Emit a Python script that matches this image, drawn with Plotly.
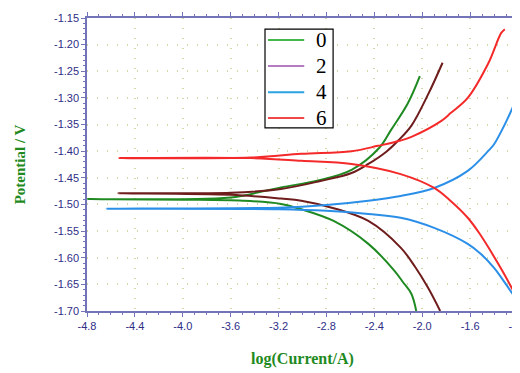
import plotly.graph_objects as go

# ---- data (log current / A, potential / V) ----
labels = ["0", "2", "4", "6"]

log_i_0 = [-2.05, -2.09, -2.16, -2.23, -2.45, -2.74, -3.01, -3.18, -3.5, -4.0, -4.8,
           -4.0, -3.6, -3.18, -2.87, -2.59, -2.36, -2.26, -2.12, -2.02]
pot_0 = [-1.700, -1.668, -1.646, -1.625, -1.574, -1.531, -1.509, -1.499, -1.493, -1.491, -1.490,
         -1.490, -1.487, -1.468, -1.455, -1.435, -1.394, -1.360, -1.310, -1.259]

log_i_2 = [-1.85, -1.95, -2.06, -2.18, -2.45, -2.74, -3.01, -3.18, -3.6, -4.54,
           -3.6, -3.18, -2.85, -2.59, -2.45, -2.30, -2.20, -2.09, -1.95, -1.83]
pot_2 = [-1.700, -1.657, -1.617, -1.581, -1.531, -1.507, -1.493, -1.489, -1.482, -1.479,
         -1.478, -1.471, -1.456, -1.441, -1.424, -1.401, -1.380, -1.352, -1.293, -1.234]

log_i_4 = [-1.20, -1.30, -1.40, -1.51, -1.62, -1.90, -2.18, -2.45, -2.8, -3.2, -4.64,
           -3.2, -2.8, -2.45, -2.18, -1.90, -1.62, -1.45, -1.40, -1.30, -1.20]
pot_4 = [-1.683, -1.650, -1.619, -1.593, -1.574, -1.544, -1.525, -1.518, -1.512, -1.509, -1.508,
         -1.506, -1.501, -1.493, -1.484, -1.469, -1.437, -1.400, -1.387, -1.345, -1.295]

log_i_6 = [-1.23, -1.33, -1.43, -1.52, -1.62, -1.76, -1.90, -2.18, -2.59, -3.01, -3.43, -4.53,
           -3.43, -3.01, -2.59, -2.37, -2.18, -2.09, -1.84, -1.76, -1.62, -1.45, -1.34, -1.31]
pot_6 = [-1.666, -1.625, -1.587, -1.555, -1.525, -1.494, -1.469, -1.443, -1.424, -1.418, -1.413, -1.413,
         -1.412, -1.405, -1.400, -1.390, -1.380, -1.373, -1.343, -1.328, -1.300, -1.236, -1.178, -1.171]

x_ticks = [-4.8, -4.4, -4.0, -3.6, -3.2, -2.8, -2.4, -2.0, -1.6, -1.2]
x_tick_text = ["-4.8", "-4.4", "-4.0", "-3.6", "-3.2", "-2.8", "-2.4", "-2.0", "-1.6", "-1.2"]
y_ticks = [-1.15, -1.20, -1.25, -1.30, -1.35, -1.40, -1.45, -1.50, -1.55, -1.60, -1.65, -1.70]
y_tick_text = ["-1.15", "-1.20", "-1.25", "-1.30", "-1.35", "-1.40", "-1.45", "-1.50",
               "-1.55", "-1.60", "-1.65", "-1.70"]

line_colors = ["#1f8a22", "#6e1c1c", "#2b8fe8", "#f42a2a"]
legend_colors = ["#45b84a", "#b47cc4", "#2aa3e0", "#f04848"]

series = [(log_i_0, pot_0), (log_i_2, pot_2), (log_i_4, pot_4), (log_i_6, pot_6)]

fig = go.Figure()
for (xs, ys), c in zip(series, line_colors):
    fig.add_trace(go.Scatter(x=xs, y=ys, mode="lines", showlegend=False,
                             line=dict(color=c, width=2, shape="spline", smoothing=1.0)))

# ---- hand-drawn legend box (paper coordinates) ----
box = dict(x0=0.413, x1=0.571, y0=0.625, y1=0.962)
item_y = [0.925, 0.836, 0.747, 0.659]
fig.add_shape(type="rect", xref="paper", yref="paper", line=dict(color="black", width=1.2),
              fillcolor="white", layer="above", **box)
for name, c, yy in zip(labels, legend_colors, item_y):
    fig.add_shape(type="line", xref="paper", yref="paper", x0=0.420, x1=0.504, y0=yy, y1=yy,
                  line=dict(color=c, width=2), layer="above")
    fig.add_annotation(xref="paper", yref="paper", x=0.526, y=yy, text=name, showarrow=False,
                       xanchor="left", yanchor="middle",
                       font=dict(family="Liberation Serif, Times New Roman, serif", size=21, color="black"))

axis_col = "#7373b8"
tick_font = dict(family="Liberation Sans Narrow, Liberation Sans, Arial", size=11, color="#2e2e86")
title_font = dict(family="Liberation Serif, Times New Roman, serif", size=16, color="#1f8a22")

fig.update_layout(
    width=520, height=373,
    margin=dict(l=79, r=10, t=10, b=70),
    paper_bgcolor="white", plot_bgcolor="white",
    showlegend=False,
)
fig.update_xaxes(
    range=[-4.8, -1.2], tickvals=x_ticks, ticktext=x_tick_text, automargin=False,
    ticklabeloverflow="allow",
    showline=True, linecolor=axis_col, linewidth=1.5, mirror="ticks",
    ticks="outside", ticklen=4, tickcolor=axis_col, tickfont=tick_font,
    showgrid=True, gridcolor="#d4d8a8", griddash="1px,9px", gridwidth=1.5,
    zeroline=False,
    minor=dict(dtick=0.1, tick0=-4.8, ticks="outside", ticklen=2, tickcolor=axis_col, showgrid=False),
    title=dict(text="<b>log(Current/A)</b>", font=title_font, standoff=22),
)
fig.update_yaxes(
    range=[-1.70, -1.15], tickvals=y_ticks, ticktext=y_tick_text, automargin=False,
    showline=True, linecolor=axis_col, linewidth=1.5, mirror="ticks",
    ticks="outside", ticklen=4, tickcolor=axis_col, tickfont=tick_font,
    showgrid=True, gridcolor="#d4d8a8", griddash="1px,9px", gridwidth=1.5,
    zeroline=False,
    minor=dict(dtick=0.01, tick0=-1.70, ticks="outside", ticklen=2, tickcolor=axis_col, showgrid=False),
    title=dict(text="<b>Potential / V</b>", font=dict(family=title_font["family"], size=15, color="#1f8a22"),
               standoff=25),
)

fig.write_html("out.html")
